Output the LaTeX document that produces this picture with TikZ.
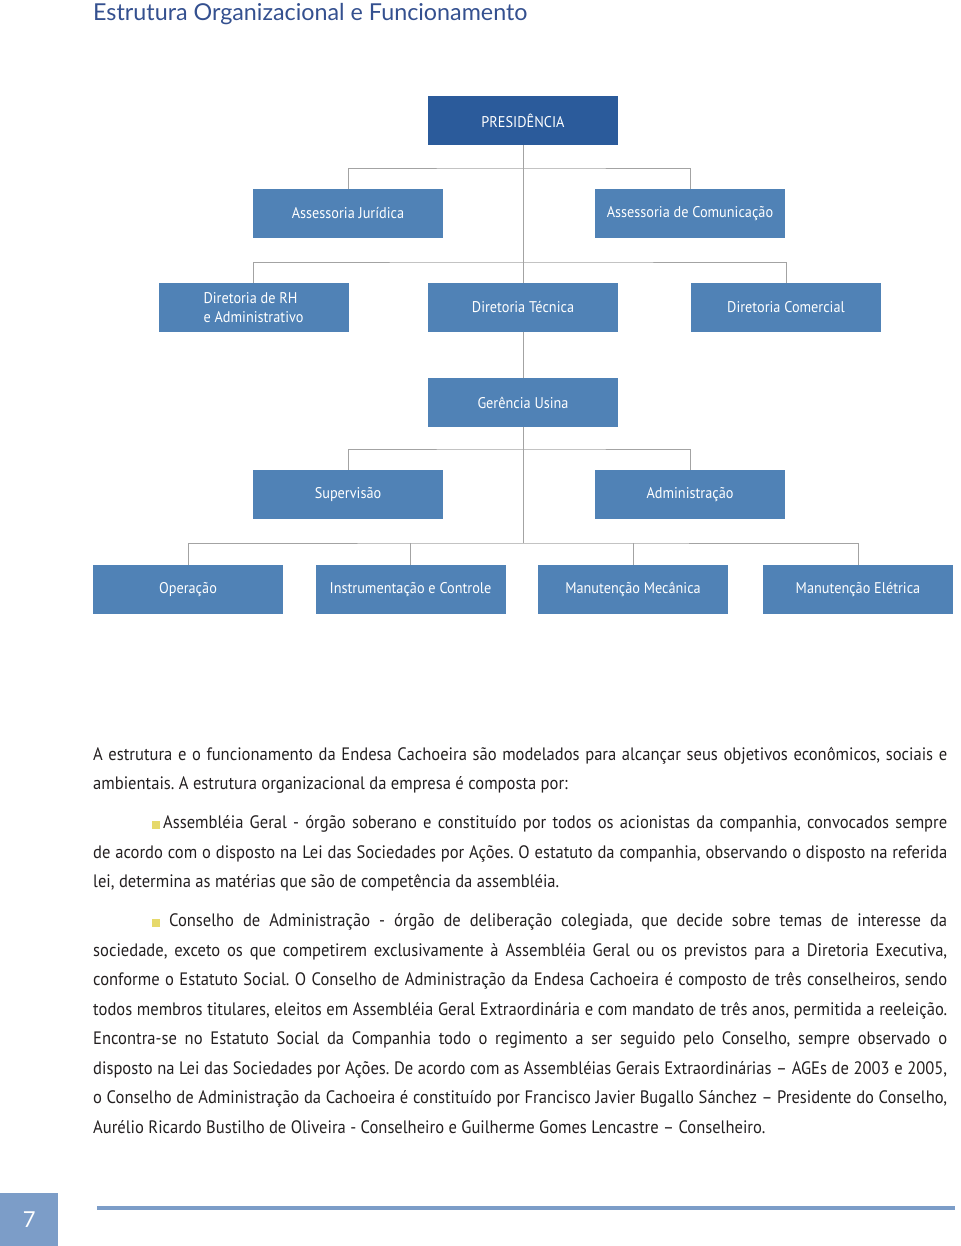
\documentclass[tikz,border=0pt]{standalone}
\usepackage{fontspec}
\setmainfont{PT Sans}[FakeStretch=0.92]
\newfontfamily\titlefont{Lato}
\usetikzlibrary{positioning}
\definecolor{presblue}{HTML}{2B5B9B}
\definecolor{unitblue}{HTML}{5082B6}
\definecolor{linegray}{HTML}{A3A3A3}
\definecolor{titleblue}{HTML}{34508F}
\definecolor{footblue}{HTML}{7C9DC8}
\definecolor{bulletyellow}{HTML}{E6D96B}
\definecolor{bodytext}{HTML}{231F20}
\tikzset{
	unit/.style={fill=unitblue, text=white,
		minimum width=190pt, minimum height=49pt,
		inner sep=2pt, font=\fontsize{15.5}{19.5}\selectfont},
	presunit/.style={unit, fill=presblue},
	link/.style={draw=linegray, line width=0.8pt},
}
\newcommand{\bulletsq}{\textcolor{bulletyellow}{\rule{8pt}{8pt}}}

\begin{document}
\begin{tikzpicture}[x=1pt, y=-1pt]
	\useasboundingbox (0,0) rectangle (960,1246);
	% title
	\node[anchor=base west, inner sep=0pt, text=titleblue,
	font=\titlefont\fontsize{23.3}{27}\selectfont] (title) at (93,21)
	{Estrutura Organizacional e Funcionamento};
	
	% chart boxes
	\node[presunit] (presid) at (523,120.5) {PRESIDÊNCIA};
	\node[unit] (asjur) at (348,213.5) {Assessoria Jurídica};
	\node[unit] (ascom) at (690,213.5) {Assessoria de Comunicação};
	\node[unit, align=left] (dirrh) at (253.5,307.5) {Diretoria de RH\\e Administrativo};
	\node[unit] (dirtec) at (523,307.5) {Diretoria Técnica};
	\node[unit] (dircom) at (786,307.5) {Diretoria Comercial};
	\node[unit] (gerusina) at (523,402.5) {Gerência Usina};
	\node[unit] (superv) at (348,494.5) {Supervisão};
	\node[unit] (admin) at (690,494.5) {Administração};
	\node[unit] (oper) at (188,589.5) {Operação};
	\node[unit] (instr) at (410.5,589.5) {Instrumentação e Controle};
	\node[unit] (manmec) at (633,589.5) {Manutenção Mecânica};
	\node[unit] (manele) at (858,589.5) {Manutenção Elétrica};
	
	% junctions
	\coordinate (j1) at (523,168);
	\coordinate (j2) at (523,262);
	\coordinate (j3) at (523,449);
	\coordinate (j4) at (523,543);
	
	% Lines
	\draw[link] (presid) -- (dirtec);
	\draw[link] (asjur.north) |- (j1) -| (ascom.north);
	\draw[link] (dirrh.north) |- (j2) -| (dircom.north);
	\draw[link] (dirtec) -- (gerusina);
	\draw[link] (gerusina.south) -- (j4);
	\draw[link] (superv.north) |- (j3) -| (admin.north);
	\draw[link] (oper.north) |- (j4) -| (manele.north);
	\draw[link] (instr.north) -- (instr.north |- j4);
	\draw[link] (manmec.north) -- (manmec.north |- j4);
	
	% body text
	\node[anchor=base west, inner sep=0pt, text width=854pt, align=justify,
	text=bodytext, font=\fontsize{18}{29.5}\selectfont] (body) at (93,760) {%
		\setlength{\parskip}{9.5pt}\setlength{\parindent}{0pt}\hyphenpenalty=10000\frenchspacing
		A estrutura e o funcionamento da Endesa Cachoeira são modelados para alcançar seus objetivos econômicos, sociais e\linebreak
		ambientais. A estrutura organizacional da empresa é composta por:\par
		\hspace*{59pt}\bulletsq\,Assembléia Geral - órgão soberano e constituído por todos os acionistas da companhia, convocados sempre\linebreak
		de acordo com o disposto na Lei das Sociedades por Ações. O estatuto da companhia, observando o disposto na referida\linebreak
		lei, determina as matérias que são de competência da assembléia.\par
		\hspace*{59pt}\bulletsq\ Conselho de Administração - órgão de deliberação colegiada, que decide sobre temas de interesse da\linebreak
		sociedade, exceto os que competirem exclusivamente à Assembléia Geral ou os previstos para a Diretoria Executiva,\linebreak
		conforme o Estatuto Social. O Conselho de Administração da Endesa Cachoeira é composto de três conselheiros, sendo\linebreak
		todos membros titulares, eleitos em Assembléia Geral Extraordinária e com mandato de três anos, permitida a reeleição.\linebreak
		Encontra-se no Estatuto Social da Companhia todo o regimento a ser seguido pelo Conselho, sempre observado o\linebreak
		disposto na Lei das Sociedades por Ações. De acordo com as Assembléias Gerais Extraordinárias – AGEs de 2003 e 2005,\linebreak
		o Conselho de Administração da Cachoeira é constituído por Francisco Javier Bugallo Sánchez – Presidente do Conselho,\linebreak
		Aurélio Ricardo Bustilho de Oliveira - Conselheiro e Guilherme Gomes Lencastre – Conselheiro.\par};
	
	% footer
	\node[fill=footblue, text=white, minimum width=58pt, minimum height=53pt,
	anchor=south west, inner sep=0pt, font=\titlefont\fontsize{22}{26}\selectfont] (pageno) at (0,1246) {7};
	\draw[footblue, line width=4pt] (97,1208) -- (955,1208);
\end{tikzpicture}
\end{document}
